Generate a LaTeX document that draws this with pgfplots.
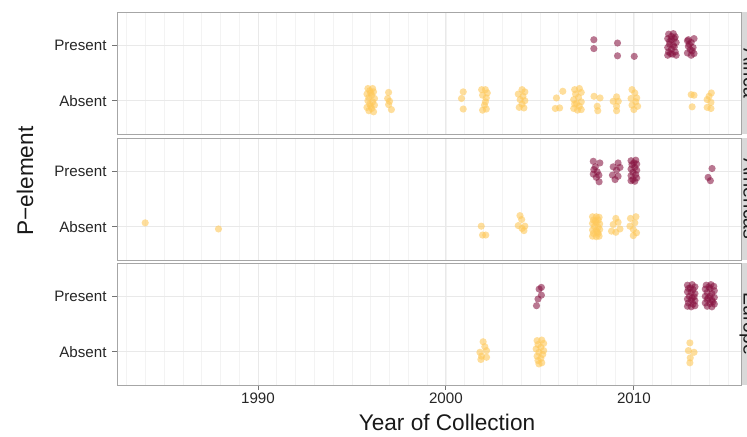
\documentclass[border=0pt]{standalone}
\usepackage{pgfplots}
\pgfplotsset{compat=1.18}
\usepackage{fontspec}
\setmainfont{Liberation Sans}
\definecolor{absc}{RGB}{254,200,90}
\definecolor{presc}{RGB}{135,20,65}
\definecolor{bordc}{RGB}{166,166,166}
\definecolor{gridmaj}{RGB}{233,233,233}
\definecolor{gridmin}{RGB}{243,243,243}
\definecolor{stripc}{RGB}{217,217,217}
\pgfplotsset{
 panel/.style={
  scale only axis, width=624bp, height=122bp, anchor=south west,
  xmin=1982.5, xmax=2015.7, ymin=0.4, ymax=2.6,
  ytick={1,2}, yticklabels={Absent,Present},
  xtick={1990,2000,2010}, minor xtick={1983,...,2015},
  grid=both,
  major grid style={gridmaj, line width=0.9bp},
  minor grid style={gridmin, line width=0.5bp},
  axis line style={bordc, line width=0.9bp},
  tick align=outside, xtick pos=left, ytick pos=left,
  major tick length=4.5bp, minor tick length=0pt,
  tick style={black!55, line width=0.9bp},
  ticklabel style={font=\fontsize{15.2}{16}\selectfont, text=black!85},
  yticklabel style={xshift=-2.5bp},
  /pgf/number format/assume math mode=true,
  /pgf/number format/1000 sep={},
 },
 absm/.style={only marks, mark=*, mark size=3.6bp, color=absc, mark options={draw=absc, draw opacity=0, fill=absc, fill opacity=0.6}},
 presm/.style={only marks, mark=*, mark size=3.6bp, color=presc, mark options={draw=presc, draw opacity=0, fill=presc, fill opacity=0.58}},
}
\begin{document}
\begin{tikzpicture}
\useasboundingbox (0,0) rectangle (747bp,437bp);
% ---------- Africa ----------
\begin{axis}[panel, at={(117bp,303bp)}, xticklabels={}, xtick style={draw=none}]
\addplot[absm] coordinates {
(1995.85,1.22) (1996.1,1.22) (1995.95,1.18) (1996.15,1.16) (1995.8,1.12) (1996.05,1.10)
(1995.9,1.06) (1996.2,1.04) (1995.85,1.0) (1996.1,0.98) (1995.95,0.94) (1996.2,0.92)
(1995.8,0.88) (1996.05,0.86) (1995.9,0.82) (1996.15,0.80) (1996.0,1.14) (1996.0,0.90)
(1996.95,1.15) (1996.9,1.04) (1996.95,0.93) (1997.1,0.84) (1997.0,0.99)
(2000.92,1.16) (2000.83,1.04) (2000.92,0.85)
(2001.9,1.2) (2002.1,1.2) (2002.2,1.14) (2001.95,1.1) (2002.15,1.05) (2002.1,0.98)
(2002.05,0.92) (2002.15,0.85) (2001.95,0.83)
(2004.05,1.2) (2004.2,1.16) (2003.85,1.12) (2004.1,1.08) (2003.95,1.02) (2004.2,1.0)
(2004.05,0.94) (2003.9,0.88) (2004.15,0.87)
(2005.88,1.05) (2006.22,1.17) (2005.82,0.86) (2006.05,0.87)
(2006.85,1.2) (2007.1,1.22) (2007.2,1.15) (2006.9,1.12) (2007.05,1.06) (2006.8,1.02)
(2007.2,0.98) (2006.95,0.95) (2007.1,0.9) (2006.8,0.86) (2007.0,0.83) (2007.2,0.84) (2006.85,0.94)
(2007.88,1.08) (2008.2,1.05) (2008.05,0.9) (2008.08,0.82)
(2009.08,1.07) (2008.9,0.99) (2009.17,0.99) (2009.08,0.9) (2009.08,0.82)
(2009.9,1.2) (2010.05,1.14) (2010.15,1.05) (2009.85,1.04) (2010.1,0.98) (2009.9,0.92)
(2010.2,0.9) (2010.0,0.84)
(2013.05,1.11) (2013.2,1.10) (2013.1,0.89)
(2014.12,1.14) (2014.0,1.08) (2013.9,1.02) (2014.1,0.97) (2013.9,0.88) (2014.1,0.86)
};
\addplot[presm] coordinates {
(2007.87,2.10) (2007.87,1.94)
(2009.13,2.04) (2009.13,1.81)
(2010.02,1.80)
(2011.85,2.2) (2012.1,2.21) (2012.2,2.15) (2011.8,2.12) (2012.0,2.1) (2012.25,2.05)
(2011.9,2.02) (2011.8,1.96) (2012.15,1.97) (2012.0,1.93) (2011.85,1.88) (2012.2,1.88)
(2012.05,1.84) (2011.8,1.82) (2012.25,1.82) (2012.0,2.16) (2012.1,2.0) (2011.95,1.85)
(2012.15,2.12) (2011.9,2.07)
(2012.85,2.08) (2013.2,2.12) (2013.05,2.05) (2012.9,1.98) (2013.15,1.96) (2013.0,1.92)
(2012.85,1.86) (2013.2,1.85) (2013.05,1.82) (2012.95,2.02) (2013.1,1.9) (2012.9,2.1)
};
\end{axis}
% ---------- Americas ----------
\begin{axis}[panel, at={(117bp,177bp)}, xticklabels={}, xtick style={draw=none}]
\addplot[absm] coordinates {
(1984.0,1.07) (1987.9,0.96)
(2001.88,1.01) (2001.95,0.85) (2002.12,0.85)
(2003.94,1.20) (2004.03,1.13) (2003.85,1.02) (2004.2,1.01) (2004.15,0.93) (2004.05,0.97)
(2007.8,1.18) (2008.0,1.18) (2008.15,1.17) (2007.85,1.12) (2008.1,1.12) (2007.8,1.06)
(2008.0,1.07) (2008.18,1.05) (2007.9,1.0) (2008.1,0.99) (2007.8,0.94) (2008.0,0.93)
(2008.18,0.95) (2007.85,0.88) (2008.1,0.88) (2007.8,0.83) (2008.0,0.82) (2008.15,0.83)
(2007.95,1.1) (2008.05,0.9)
(2009.04,1.15) (2009.16,1.08) (2008.9,1.04) (2009.26,0.96) (2008.81,0.92) (2009.04,0.9)
(2009.82,1.15) (2010.11,1.18) (2010.05,1.07) (2009.79,1.01) (2009.97,0.95) (2010.14,0.89) (2009.97,0.84)
};
\addplot[presm] coordinates {
(2007.84,2.18) (2008.19,2.15) (2007.87,2.03) (2008.05,1.99) (2007.84,1.95) (2008.14,1.93)
(2008.0,1.89) (2008.15,1.81) (2007.95,2.08)
(2009.16,2.15) (2008.9,2.08) (2009.26,2.07) (2009.08,2.02) (2008.86,1.93) (2009.16,1.91) (2009.0,1.85)
(2009.85,2.19) (2010.1,2.2) (2010.15,2.13) (2009.9,2.12) (2010.05,2.07) (2009.85,2.04)
(2010.15,2.02) (2009.95,1.98) (2010.1,1.94) (2009.85,1.92) (2010.15,1.88) (2009.95,1.85)
(2010.05,1.82) (2009.85,1.83) (2010.0,2.15)
(2014.16,2.05) (2013.95,1.89) (2014.07,1.83)
};
\end{axis}
% ---------- Europe ----------
\begin{axis}[panel, at={(117bp,52bp)}]
\addplot[absm] coordinates {
(2001.98,1.18) (2002.07,1.09) (2001.81,0.99) (2002.16,1.02) (2001.9,0.92) (2002.16,0.9) (2001.86,0.86)
(2004.85,1.2) (2005.1,1.21) (2005.2,1.15) (2004.9,1.13) (2005.05,1.08) (2004.8,1.05)
(2005.2,1.02) (2004.95,0.99) (2005.15,0.95) (2004.85,0.92) (2005.05,0.88) (2004.9,0.84)
(2005.1,0.8) (2004.95,0.78)
(2012.98,1.16) (2012.9,1.02) (2013.2,0.99) (2013.0,0.89) (2012.98,0.8)
};
\addplot[presm] coordinates {
(2005.08,2.16) (2004.96,2.13) (2005.08,2.02) (2004.9,1.95) (2004.82,1.83)
(2012.85,2.2) (2013.1,2.21) (2013.25,2.17) (2012.9,2.14) (2013.15,2.12) (2012.85,2.08)
(2013.05,2.07) (2013.25,2.05) (2012.95,2.0) (2013.2,1.99) (2012.85,1.95) (2013.05,1.93)
(2013.25,1.92) (2012.9,1.88) (2013.15,1.86) (2012.85,1.82) (2013.05,1.81) (2013.25,1.83)
(2013.0,2.15) (2013.1,1.97)
(2013.85,2.2) (2014.1,2.21) (2014.25,2.18) (2013.8,2.13) (2014.05,2.14) (2014.28,2.1)
(2013.9,2.07) (2014.15,2.05) (2013.8,2.0) (2014.05,2.0) (2014.28,1.98) (2013.9,1.94)
(2014.15,1.93) (2013.8,1.88) (2014.05,1.87) (2014.28,1.86) (2013.9,1.82) (2014.15,1.81)
(2014.0,2.17) (2013.95,1.97) (2014.2,1.9)
};
\end{axis}
% ---------- strips ----------
\foreach \yb/\lab in {303/Africa,177/Americas,52/Europe}{
  \fill[stripc] (741.5bp,\yb bp) rectangle (775bp,\yb bp+122bp);
  \node[rotate=-90, anchor=base, inner sep=0pt, font=\fontsize{19.5}{22}\selectfont, text=black!90]
    at (743.5bp,\yb bp+61bp) {\lab};
}
% ---------- axis titles ----------
\node[anchor=base, inner sep=0pt, font=\fontsize{22.7}{26}\selectfont, text=black!90] at (447bp,7bp) {Year of Collection};
\node[rotate=90, anchor=base, inner sep=0pt, font=\fontsize{22.7}{26}\selectfont, text=black!90] at (33bp,256bp) {P\textminus element};
\end{tikzpicture}
\end{document}
